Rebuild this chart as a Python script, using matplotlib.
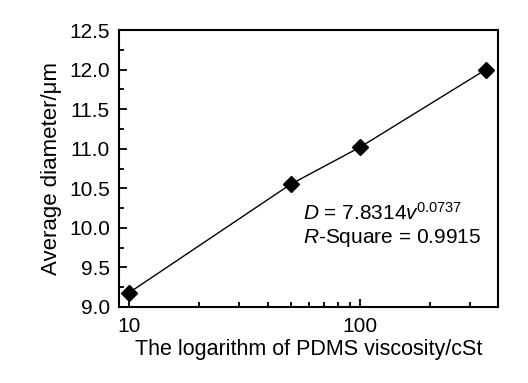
import matplotlib
matplotlib.use("Agg")
import matplotlib.pyplot as plt
from matplotlib.ticker import FixedLocator, NullFormatter

# donnees
viscosite = [10, 50, 100, 350]
diametre = [9.18, 10.55, 11.02, 12.0]
yticks = [9.0, 9.5, 10.0, 10.5, 11.0, 11.5, 12.0, 12.5]

plt.rcParams['font.family'] = ['Liberation Sans', 'DejaVu Sans']
plt.rcParams['mathtext.fontset'] = 'custom'
plt.rcParams['mathtext.it'] = 'Liberation Sans:italic'
plt.rcParams['mathtext.rm'] = 'Liberation Sans'

fig = plt.figure(figsize=(5.28, 3.83), dpi=100)
ax = fig.add_axes([119/528, 1-307/383, (498-119)/528, (307-30)/383])

ax.plot(viscosite, diametre, color='black', lw=1.0, marker='D', ms=8.5,
        mfc='black', mec='black')
ax.set_xscale('log')
ax.set_xlim(9.05, 395)
ax.set_ylim(9.0, 12.5)
ax.set_yticks(yticks)
ax.set_yticklabels(['%.1f' % v for v in yticks])
ax.yaxis.set_minor_locator(FixedLocator([v + 0.25 for v in yticks[:-1]]))
ax.set_xticks([10, 100])
ax.set_xticklabels(['10', '100'])
ax.xaxis.set_minor_formatter(NullFormatter())

for s in ax.spines.values():
    s.set_linewidth(1.5)
ax.tick_params(which='both', direction='in', top=False, right=False,
               labelsize=15, width=1.3)
ax.tick_params(axis='y', pad=6.5)
ax.tick_params(axis='x', pad=7)
ax.tick_params(which='major', length=5.5)
ax.tick_params(which='minor', length=3.5)

ax.set_xlabel('The logarithm of PDMS viscosity/cSt', fontsize=15.5, labelpad=2)
ax.set_ylabel('Average diameter/\u03bcm', fontsize=16, labelpad=5)

ax.text(0.485, 0.314, r'$D$ = 7.8314$v$$^{0.0737}$', transform=ax.transAxes,
        fontsize=15, va='baseline')
ax.text(0.485, 0.230, r'$R$-Square = 0.9915', transform=ax.transAxes,
        fontsize=15, va='baseline')

fig.savefig('out.png', dpi=100)
